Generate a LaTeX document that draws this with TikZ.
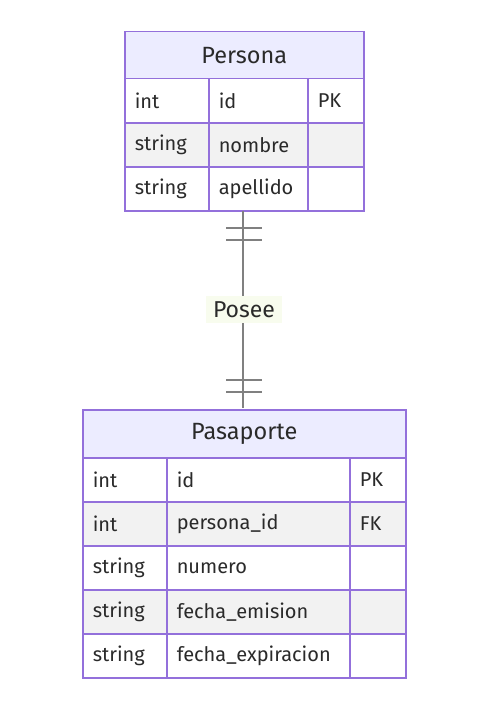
\documentclass[tikz,border=0pt]{standalone}
\usepackage{fontspec}
\setmainfont{Fira Sans}
\usetikzlibrary{fit}
\definecolor{hdr}{HTML}{ECECFF}
\definecolor{bord}{HTML}{9370DB}
\definecolor{alt}{HTML}{F2F2F2}
\definecolor{txt}{HTML}{2A2A2A}
\definecolor{edgec}{HTML}{808080}
\definecolor{lblbg}{HTML}{F8FCEE}
\tikzset{
  cell/.style={draw=bord, line width=1.5pt, rectangle, anchor=north west,
    minimum height=44pt, inner xsep=10pt, inner ysep=0pt, text width=#1pt-20pt,
    align=left, font=\fontsize{20}{22}\selectfont, text=txt},
  hcell/.style={draw=bord, line width=1.5pt, rectangle, anchor=north west, fill=hdr,
    minimum width=#1pt, inner sep=0pt, font=\fontsize{23.5}{26}\selectfont, text=txt},
  whiterow/.style={fill=white},
  greyrow/.style={fill=alt},
  rel/.style={draw=edgec, line width=1.3pt},
  bar/.style={draw=edgec, line width=1.3pt},
  lbl/.style={fill=lblbg, text=txt, font=\fontsize{23}{26}\selectfont, minimum width=76pt, minimum height=27pt, inner sep=0pt}
}
\begin{document}
\begin{tikzpicture}[x=1pt,y=-1pt]
\useasboundingbox (0,0) rectangle (481,706);
% Persona
\node[hcell=239, minimum height=47pt] (ph) at (124,31) {Persona};
\node[cell=84, whiterow] (p11) at (124,78) {int};
\node[cell=99, whiterow] (p12) at (208,78) {id};
\node[cell=56, whiterow] (p13) at (307,78) {PK};
\node[cell=84, greyrow] (p21) at (124,122) {string};
\node[cell=99, greyrow] (p22) at (208,122) {nombre};
\node[cell=56, greyrow] (p23) at (307,122) {};
\node[cell=84, whiterow] (p31) at (124,166) {string};
\node[cell=99, whiterow] (p32) at (208,166) {apellido};
\node[cell=56, whiterow] (p33) at (307,166) {};
\node[fit=(ph)(p33), inner sep=0pt] (persona) {};
% Pasaporte
\node[hcell=323, minimum height=48pt] (sh) at (82,409) {Pasaporte};
\node[cell=84, whiterow] (s11) at (82,457) {int};
\node[cell=183, whiterow] (s12) at (166,457) {id};
\node[cell=56, whiterow] (s13) at (349,457) {PK};
\node[cell=84, greyrow] (s21) at (82,501) {int};
\node[cell=183, greyrow] (s22) at (166,501) {persona\_id};
\node[cell=56, greyrow] (s23) at (349,501) {FK};
\node[cell=84, whiterow] (s31) at (82,545) {string};
\node[cell=183, whiterow] (s32) at (166,545) {numero};
\node[cell=56, whiterow] (s33) at (349,545) {};
\node[cell=84, greyrow] (s41) at (82,589) {string};
\node[cell=183, greyrow] (s42) at (166,589) {fecha\_emision};
\node[cell=56, greyrow] (s43) at (349,589) {};
\node[cell=84, whiterow] (s51) at (82,633) {string};
\node[cell=183, whiterow] (s52) at (166,633) {fecha\_expiracion};
\node[cell=56, whiterow] (s53) at (349,633) {};
\node[fit=(sh)(s53), inner sep=0pt] (pasaporte) {};
% relation
\coordinate (top) at (243,210.8);
\coordinate (bot) at (243,408.2);
\path[rel] (top) -- (bot);
\path[bar] (226,228) -- (262,228);
\path[bar] (226,240) -- (262,240);
\path[bar] (226,380) -- (262,380);
\path[bar] (226,392) -- (262,392);
\node[lbl] (posee) at (244,309.5) {Posee};
\end{tikzpicture}
\end{document}
